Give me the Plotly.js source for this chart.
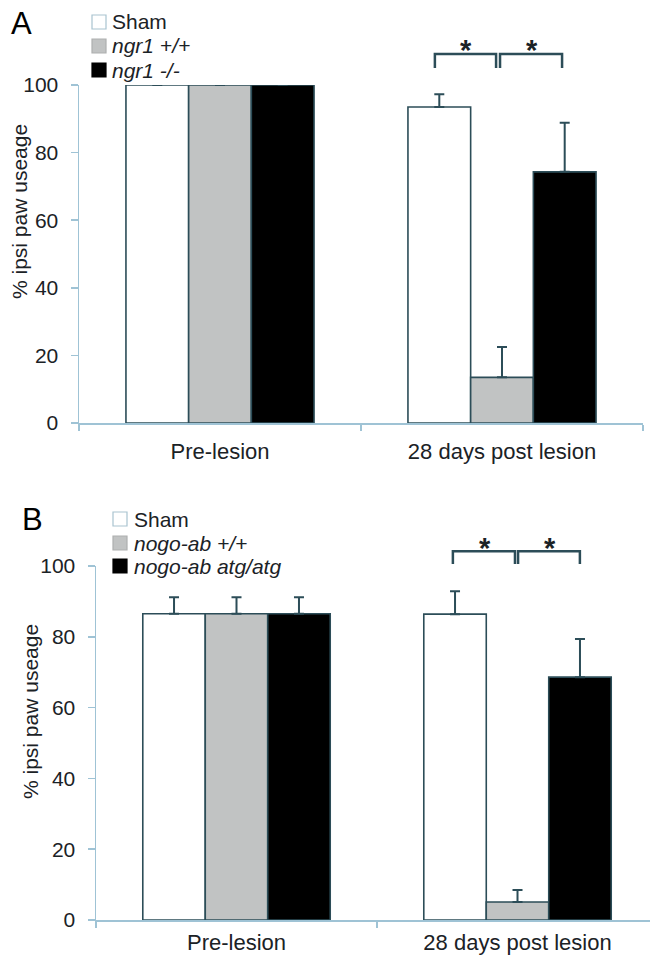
<!DOCTYPE html>
<html>
<head>
<meta charset="utf-8">
<script src="https://cdn.plot.ly/plotly-3.0.1.min.js"></script>
<style>html,body{margin:0;padding:0;background:#fff;}#chart{width:650px;height:959px;}</style>
</head>
<body>
<div id="chart"></div>
<script>
// ---- data ----
const categories = ['Pre-lesion', '28 days post lesion'];
const yTicks = [0, 20, 40, 60, 80, 100];

// Panel A
const seriesA = ['Sham', 'ngr1 +/+', 'ngr1 -/-'];
const shamA = [100, 93.5];
const shamAErr = [null, 3.8];
const wtA = [100, 13.5];
const wtAErr = [null, 9.0];
const koA = [100, 74.3];
const koAErr = [null, 14.5];

// Panel B
const seriesB = ['Sham', 'nogo-ab +/+', 'nogo-ab atg/atg'];
const shamB = [86.5, 86.4];
const shamBErr = [4.7, 6.5];
const wtB = [86.5, 5.1];
const wtBErr = [4.7, 3.4];
const koB = [86.5, 68.6];
const koBErr = [4.7, 10.8];

// ---- styles ----
const W = 650, H = 959;
const FONT = 'Liberation Sans, Arial, Helvetica, sans-serif';
const TXT = '#1b2226';
const EDGE = '#2c4d58';
const AXIS = '#9fc3d5';
const fills = ['#ffffff', '#c1c3c3', '#000000'];
const legendEdges = ['#a9c4d0', '#aeb0b0', '#000000'];
const px = v => v / W;
const py = v => 1 - v / H;

function barTrace(name, y, err, i, xa, ya) {
  return {
    type: 'bar', name: name, x: categories, y: y,
    xaxis: xa, yaxis: ya, showlegend: false,
    marker: {color: fills[i], line: {color: EDGE, width: 1.6}},
    error_y: {type: 'data', symmetric: false, array: err,
              arrayminus: err.map(e => e === null ? null : 0),
              color: EDGE, thickness: 2, width: 5},
    hoverinfo: 'skip'
  };
}

const data = [
  barTrace(seriesA[0], shamA, shamAErr, 0, 'x', 'y'),
  barTrace(seriesA[1], wtA, wtAErr, 1, 'x', 'y'),
  barTrace(seriesA[2], koA, koAErr, 2, 'x', 'y'),
  barTrace(seriesB[0], shamB, shamBErr, 0, 'x2', 'y2'),
  barTrace(seriesB[1], wtB, wtBErr, 1, 'x2', 'y2'),
  barTrace(seriesB[2], koB, koBErr, 2, 'x2', 'y2')
];

function xAxis(domain, range, anchor, standoff) {
  return {
    domain: domain, range: range, anchor: anchor, type: 'category',
    tickson: 'boundaries', ticks: 'outside', ticklen: 6, tickwidth: 1.5,
    tickcolor: AXIS, showline: true, linecolor: AXIS, linewidth: 1.5,
    showgrid: false, zeroline: false, fixedrange: true,
    tickfont: {family: FONT, size: 22, color: TXT}, ticklabelstandoff: standoff
  };
}
function yAxis(domain, anchor) {
  return {
    domain: domain, range: [0, 100], anchor: anchor,
    tickvals: yTicks, ticktext: yTicks.map(String),
    ticks: 'outside', ticklen: 7, tickwidth: 1.5, tickcolor: AXIS,
    showline: true, linecolor: AXIS, linewidth: 1.5,
    showgrid: false, zeroline: false, fixedrange: true,
    tickfont: {family: FONT, size: 21, color: TXT}, ticklabelstandoff: 8
  };
}

const shapes = [];
const annotations = [];

// significance brackets (x in category units, y in data units -> y domain fraction)
function bracket(xa, yaDom, x0, x1, yTop, yLeg) {
  shapes.push({type: 'path', xref: xa, yref: yaDom,
    path: 'M' + x0 + ',' + (yLeg / 100) + ' L' + x0 + ',' + (yTop / 100) +
          ' L' + x1 + ',' + (yTop / 100) + ' L' + x1 + ',' + (yLeg / 100),
    line: {color: EDGE, width: 2.5}});
}
function star(xa, yaDom, x, y) {
  annotations.push({xref: xa, yref: yaDom, x: x, y: y / 100, text: '<b>*</b>',
    showarrow: false, xanchor: 'center', yanchor: 'middle',
    font: {family: FONT, size: 29, color: TXT}});
}
bracket('x', 'y domain', 0.762, 0.979, 109.2, 105.0);
bracket('x', 'y domain', 0.993, 1.213, 109.2, 105.0);
star('x', 'y domain', 0.872, 110.4);
star('x', 'y domain', 1.106, 110.4);
bracket('x2', 'y2 domain', 0.770, 0.991, 104.2, 100.6);
bracket('x2', 'y2 domain', 1.002, 1.222, 104.2, 100.6);
star('x2', 'y2 domain', 0.884, 105.2);
star('x2', 'y2 domain', 1.116, 105.2);

// custom legends
function legend(names, x0, textX, rows) {
  names.forEach((n, i) => {
    const cy = rows[i];
    shapes.push({type: 'rect', xref: 'paper', yref: 'paper',
      x0: px(x0), x1: px(x0 + 14), y0: py(cy + 7), y1: py(cy - 7),
      fillcolor: fills[i], line: {color: legendEdges[i], width: 1.2}});
    annotations.push({xref: 'paper', yref: 'paper', x: px(textX), y: py(cy),
      xanchor: 'left', yanchor: 'middle', showarrow: false,
      text: i === 0 ? n : '<i>' + n + '</i>',
      font: {family: FONT, size: 21, color: TXT}});
  });
}
legend(seriesA, 92, 110, [22, 46, 70]);
legend(seriesB, 113, 132, [519, 543, 566]);

// panel letters
annotations.push({xref: 'paper', yref: 'paper', x: px(21), y: py(24), text: 'A',
  showarrow: false, xanchor: 'center', yanchor: 'middle',
  font: {family: FONT, size: 31, color: '#000'}});
annotations.push({xref: 'paper', yref: 'paper', x: px(32), y: py(519), text: 'B',
  showarrow: false, xanchor: 'center', yanchor: 'middle',
  font: {family: FONT, size: 31, color: '#000'}});

// y titles
annotations.push({xref: 'paper', yref: 'paper', x: px(20), y: py(212), text: '% ipsi paw useage',
  textangle: -90, showarrow: false, xanchor: 'center', yanchor: 'middle',
  font: {family: FONT, size: 21, color: TXT}});
annotations.push({xref: 'paper', yref: 'paper', x: px(30), y: py(712), text: '% ipsi paw useage',
  textangle: -90, showarrow: false, xanchor: 'center', yanchor: 'middle',
  font: {family: FONT, size: 21, color: TXT}});

const layout = {
  width: W, height: H,
  margin: {l: 0, r: 0, t: 0, b: 0, pad: 0},
  paper_bgcolor: '#ffffff', plot_bgcolor: '#ffffff',
  barmode: 'group', bargap: 0.333, bargroupgap: 0,
  showlegend: false,
  font: {family: FONT, color: TXT},
  xaxis: xAxis([px(79), px(643)], [-0.5, 1.5], 'y', 8),
  yaxis: yAxis([py(423), py(85)], 'x'),
  xaxis2: xAxis([px(96), 1], [-0.5, 1.4715], 'y2', 2),
  yaxis2: yAxis([py(920), py(566)], 'x2'),
  shapes: shapes,
  annotations: annotations
};

Plotly.newPlot('chart', data, layout, {displayModeBar: false, staticPlot: true});
</script>
</body>
</html>
